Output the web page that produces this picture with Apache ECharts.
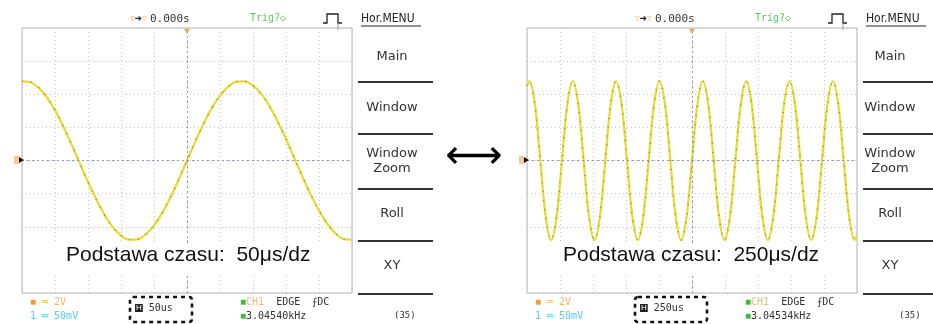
<!DOCTYPE html>
<html>
<head>
<meta charset="utf-8">
<script src="https://cdn.jsdelivr.net/npm/echarts@6/dist/echarts.min.js"></script>
<style>
html,body{margin:0;padding:0;background:#fff;}
#c{width:933px;height:324px;}
</style>
</head>
<body>
<div id="c"></div>
<script>
// ---- data (time in divisions, amplitude in divisions) ----
var leftTime = [0,0.25,0.5,0.75,1,1.25,1.5,1.75,2,2.25,2.5,2.75,3,3.25,3.5,3.75,4,4.25,4.5,4.75,5,5.25,5.5,5.75,6,6.25,6.5,6.75,7,7.25,7.5,7.75,8,8.25,8.5,8.75,9,9.25,9.5,9.75,10];
var leftVolts = [2.39,2.37,2.20,1.91,1.52,1.03,0.49,-0.08,-0.65,-1.17,-1.64,-2.01,-2.26,-2.39,-2.38,-2.23,-1.96,-1.58,-1.11,-0.57,0,0.57,1.10,1.58,1.96,2.23,2.38,2.39,2.26,2.01,1.64,1.17,0.65,0.08,-0.49,-1.03,-1.51,-1.91,-2.20,-2.37,-2.39];

var rightTime = [0,0.074,0.238,0.403,0.567,0.731,0.895,1.059,1.224,1.388,1.552,1.716,1.880,2.045,2.209,2.373,2.537,2.701,2.866,3.030,3.194,3.358,3.522,3.686,3.851,4.015,4.179,4.343,4.507,4.672,4.836,5,5.164,5.328,5.493,5.657,5.821,5.985,6.149,6.314,6.478,6.642,6.806,6.970,7.134,7.299,7.463,7.627,7.791,7.955,8.120,8.284,8.448,8.612,8.776,8.941,9.105,9.269,9.433,9.597,9.762,9.926,10];
var rightVolts = [2.25,
 2.4,1.70,0,-1.70,-2.4,-1.70,0,1.70,
 2.4,1.70,0,-1.70,-2.4,-1.70,0,1.70,
 2.4,1.70,0,-1.70,-2.4,-1.70,0,1.70,
 2.4,1.70,0,-1.70,-2.4,-1.70,0,1.70,
 2.4,1.70,0,-1.70,-2.4,-1.70,0,1.70,
 2.4,1.70,0,-1.70,-2.4,-1.70,0,1.70,
 2.4,1.70,0,-1.70,-2.4,-1.70,0,1.70,
 2.4,1.70,0,-1.70,-2.4,
 -2.25];

var menuItems = ['Main','Window','Window\nZoom','Roll','XY'];
var timebase = ['50μs/dz','250μs/dz'];
var timebaseShort = ['50us','250us'];
var freq = ['3.04540kHz','3.04534kHz'];
var labelPrefix = 'Podstawa czasu:  ';

function pairs(xs, ys){ return xs.map(function(x,i){return [x, ys[i]];}); }

var chart = echarts.init(document.getElementById('c'), null, {renderer:'canvas'});

function xAx(gi){
  return {gridIndex:gi,type:'value',min:0,max:10,interval:1,
    axisLine:{show:false},axisTick:{show:false},axisLabel:{show:false},
    splitLine:{show:true,lineStyle:{color:'#c6c6c6',type:[1,3],width:1}}};
}
function yAx(gi){
  return {gridIndex:gi,type:'value',min:-4,max:4,interval:1,
    axisLine:{show:false},axisTick:{show:false},axisLabel:{show:false},
    splitLine:{show:true,lineStyle:{color:'#c6c6c6',type:[1,3],width:1}}};
}
function traceSeries(gi, data){
  return [{
    type:'line',xAxisIndex:gi,yAxisIndex:gi,data:data,smooth:0.35,showSymbol:false,
    lineStyle:{color:'#e4dc30',width:2.2},z:3,
    markLine:{silent:true,symbol:'none',label:{show:false},
      lineStyle:{color:'#9195ad',type:[2,3],width:1},
      data:[{xAxis:5},{yAxis:0}]}
  },{
    type:'line',xAxisIndex:gi,yAxisIndex:gi,data:data,smooth:0.35,showSymbol:false,
    lineStyle:{color:'#6f6b1c',width:1.4,type:[1,8],opacity:0.75},z:4
  }];
}

var G = [];
function screenGraphics(k, dx, mdx, ldx){
  var cx = 187+dx;
  // header
  G.push({type:'text',left:130+dx,top:13,z:20,style:{text:'{o|▿}{k|➜}{o|▿} {t|0.000s}',
    rich:{o:{fill:'#e8b070',fontSize:9,fontFamily:'DejaVu Sans'},k:{fill:'#222',fontSize:9,fontFamily:'DejaVu Sans'},t:{fill:'#333',fontSize:11,fontFamily:'DejaVu Sans Mono'}}}});
  G.push({type:'text',left:250+dx,top:13,z:20,style:{text:'Trig?◇',fill:'#66c266',fontSize:10,fontFamily:'DejaVu Sans Mono'}});
  G.push({type:'polyline',z:20,shape:{points:[[323+dx,23],[327+dx,23],[327+dx,14],[338+dx,14],[338+dx,23],[342+dx,23]]},style:{stroke:'#222',lineWidth:1.3,fill:null}});
  G.push({type:'line',z:20,shape:{x1:338+dx,y1:23,x2:338+dx,y2:30},style:{stroke:'#999',lineWidth:1}});
  G.push({type:'text',left:361+dx,top:13,z:20,style:{text:'Hor.MENU',fill:'#222',fontSize:12,fontFamily:'DejaVu Sans Condensed'}});
  G.push({type:'line',z:20,shape:{x1:361+dx,y1:26,x2:421+dx,y2:26},style:{stroke:'#222',lineWidth:1}});
  // trigger markers
  G.push({type:'polygon',z:20,shape:{points:[[cx-3,29],[cx+3,29],[cx,34]]},style:{fill:'#e8a860'}});
  G.push({type:'rect',z:20,shape:{x:14+dx,y:156,width:5,height:8},style:{fill:'#f3c9a0'}});
  G.push({type:'polygon',z:21,shape:{points:[[19+dx,157],[24+dx,160],[19+dx,163]]},style:{fill:'#111'}});
  // menu
  var ys=[57,108,161,214,266];
  menuItems.forEach(function(m,i){
    G.push({type:'text',z:20,x:392+mdx,y:ys[i],style:{text:m,fill:'#333',fontSize:13,lineHeight:15,
      fontFamily:'DejaVu Sans',align:'center',verticalAlign:'middle'}});
  });
  [82,134,189,241,294].forEach(function(y){
    G.push({type:'line',z:20,shape:{x1:358+dx,y1:y,x2:Math.min(433+dx,933),y2:y},style:{stroke:'#333',lineWidth:1.8}});
  });
  // big label
  G.push({type:'rect',z:15,shape:{x:24+dx,y:243,width:327,height:32},style:{fill:'#fff'}});
  G.push({type:'text',z:16,left:66+ldx,top:245,style:{text:labelPrefix+timebase[k],fill:'#111',fontSize:21,fontFamily:'Liberation Sans'}});
  // bottom status
  G.push({type:'text',z:20,left:30+dx,top:297,style:{text:'{s|■} ═ 2V',fill:'#f2b860',fontSize:10,fontFamily:'DejaVu Sans Mono',rich:{s:{fill:'#f0a030',fontSize:10}}}});
  G.push({type:'text',z:20,left:30+dx,top:311,style:{text:'1 ═ 50mV',fill:'#5cc8ee',fontSize:10,fontFamily:'DejaVu Sans Mono'}});
  var bw = k===0?62:72;
  G.push({type:'rect',z:20,shape:{x:130+dx,y:297,width:bw,height:25,r:3},style:{fill:null,stroke:'#111',lineWidth:2.6,lineDash:[4,4]}});
  G.push({type:'text',z:20,left:135+dx,top:303,style:{text:'{h|H} '+timebaseShort[k],fill:'#333',fontSize:10,fontFamily:'DejaVu Sans Mono',
    rich:{h:{backgroundColor:'#222',fill:'#fff',fontSize:8,padding:[0,1,0,1]}}}});
  G.push({type:'text',z:20,left:240+dx,top:297,style:{text:'{g|■}{o|CH1}  EDGE  ⨍DC',fill:'#333',fontSize:10,fontFamily:'DejaVu Sans Mono',
    rich:{g:{fill:'#40b840',fontSize:10},o:{fill:'#f0b878',fontSize:10,fontFamily:'DejaVu Sans Mono'}}}});
  G.push({type:'text',z:20,left:240+dx,top:311,style:{text:'{g|■}'+freq[k],fill:'#333',fontSize:10,fontFamily:'DejaVu Sans Mono',
    rich:{g:{fill:'#40b840',fontSize:10}}}});
  G.push({type:'text',z:20,left:394+dx,top:311,style:{text:'(35)',fill:'#333',fontSize:9,fontFamily:'DejaVu Sans Mono'}});
}
screenGraphics(0,0,0,0);
screenGraphics(1,505,498,497);
// double arrow
G.push({type:'text',z:20,x:474,y:158,style:{text:'⟷',fill:'#000',fontSize:40,fontFamily:'DejaVu Sans',align:'center',verticalAlign:'middle'}});

chart.setOption({
  animation:false,
  backgroundColor:'#fff',
  grid:[
    {left:22,top:28,width:330,height:265,show:true,borderColor:'#b4b4b4',borderWidth:1},
    {left:527,top:28,width:330,height:265,show:true,borderColor:'#b4b4b4',borderWidth:1}
  ],
  xAxis:[xAx(0),xAx(1)],
  yAxis:[yAx(0),yAx(1)],
  series:traceSeries(0,pairs(leftTime,leftVolts)).concat(traceSeries(1,pairs(rightTime,rightVolts))),
  graphic:G
});
</script>
</body>
</html>
